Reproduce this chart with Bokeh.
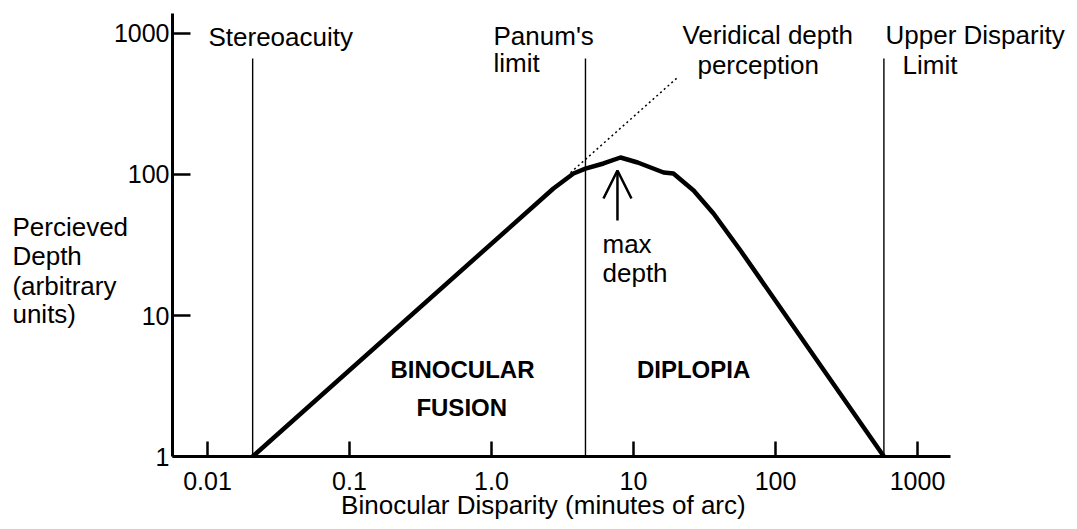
from bokeh.plotting import figure
from bokeh.models import Label, Arrow, OpenHead, FixedTicker, Range1d
from bokeh.embed import file_html
from bokeh.resources import INLINE

# ---- data ----
curve_x = [0.0208, 2.73, 3.78, 4.59, 6.15, 8.10, 10.7, 16.3, 19.1, 26.5, 36.6, 56.7, 580]
curve_y = [1, 79.6, 101.6, 110, 119.7, 132, 121.6, 103.3, 101.6, 77, 52.9, 28.9, 1]

limit_names = ["Stereoacuity", "Panum's limit", "Upper Disparity Limit"]
limit_x = [0.0208, 4.59, 580]
limit_top = [665, 665, 665]

veridical_x = [3.60, 20.4]
veridical_y = [103, 487]

x_ticks = [0.01, 0.1, 1, 10, 100, 1000]
x_tick_labels = ["0.01", "0.1", "1.0", "10", "100", "1000"]
y_ticks = [1, 10, 100, 1000]
y_tick_labels = ["1", "10", "100", "1000"]

# axis extents (data units)
x_axis_bounds = (0.00567, 1708)
y_axis_bounds = (1, 1386)

FONT = "Liberation Sans"

p = figure(width=1077, height=529, x_axis_type="log", y_axis_type="log",
           x_range=Range1d(3.486e-4, 13390), y_range=Range1d(0.3036, 1714),
           output_backend="svg", toolbar_location=None,
           min_border=0, min_border_left=0, min_border_right=0,
           min_border_top=0, min_border_bottom=0)
p.title.visible = False
p.outline_line_color = None
p.grid.visible = False
p.background_fill_color = "white"
p.border_fill_color = "white"

# axes, placed inside the frame at fixed data locations
xa = p.xaxis[0]
xa.fixed_location = y_axis_bounds[0]
xa.bounds = x_axis_bounds
xa.ticker = FixedTicker(ticks=x_ticks)
xa.major_label_overrides = {t: l for t, l in zip(x_ticks, x_tick_labels)}
xa.axis_line_width = 3
xa.major_tick_in = 15
xa.major_tick_out = 0
xa.major_tick_line_width = 2.5
xa.minor_tick_line_color = None
xa.major_label_standoff = 15
xa.major_label_text_font = FONT
xa.major_label_text_font_size = "25px"
xa.major_label_text_color = "black"

ya = p.yaxis[0]
ya.fixed_location = x_axis_bounds[0]
ya.bounds = y_axis_bounds
ya.ticker = FixedTicker(ticks=y_ticks)
ya.major_label_overrides = {t: l for t, l in zip(y_ticks, y_tick_labels)}
ya.axis_line_width = 3
ya.major_tick_in = 18
ya.major_tick_out = 0
ya.major_tick_line_width = 2.5
ya.minor_tick_line_color = None
ya.major_label_standoff = 3
ya.major_label_text_font = FONT
ya.major_label_text_font_size = "25px"
ya.major_label_text_color = "black"

# vertical limit lines
p.segment(x0=limit_x, y0=[1] * len(limit_x), x1=limit_x, y1=limit_top,
          line_color="black", line_width=1.4)

# veridical depth (dotted)
p.line(veridical_x, veridical_y, line_color="black", line_width=1.5, line_dash="2 3")

# perceived depth curve
p.line(curve_x, curve_y, line_color="black", line_width=4.5, line_join="round")

# max depth arrow
p.add_layout(Arrow(end=OpenHead(size=28, line_width=2.5, line_color="black"),
                   x_start=7.71, y_start=47.2, x_end=7.71, y_end=106.8,
                   line_width=2.5, line_color="black"))


def lab(text, x, y, align="left", bold=False, size="26px"):
    p.add_layout(Label(x=x, y=y, text=text, text_align=align, text_baseline="alphabetic",
                       text_font=FONT, text_font_size=size,
                       text_font_style="bold" if bold else "normal",
                       text_color="black"))


lab("Stereoacuity", 0.01016, 952)
lab("Panum's", 1.033, 967)
lab("limit", 1.033, 613)
lab("Veridical depth", 22.1, 983)
lab("perception", 28.2, 593)
lab("Upper Disparity", 595, 983)
lab("Limit", 784, 602)
lab("max", 6.05, 31.9)
lab("depth", 6.05, 20.1)
lab("BINOCULAR", 0.625, 4.14, align="center", bold=True, size="24px")
lab("FUSION", 0.617, 2.23, align="center", bold=True, size="24px")
lab("DIPLOPIA", 26.5, 4.14, align="center", bold=True, size="24px")

lab("Percieved", 0.000423, 42.7)
lab("Depth", 0.000423, 26.6)
lab("(arbitrary", 0.000423, 16.3)
lab("units)", 0.000423, 10.2)

# x axis title
lab("Binocular Disparity (minutes of arc)", 2.32, 0.4495, align="center")

open("out.html", "w").write(file_html(p, INLINE))
